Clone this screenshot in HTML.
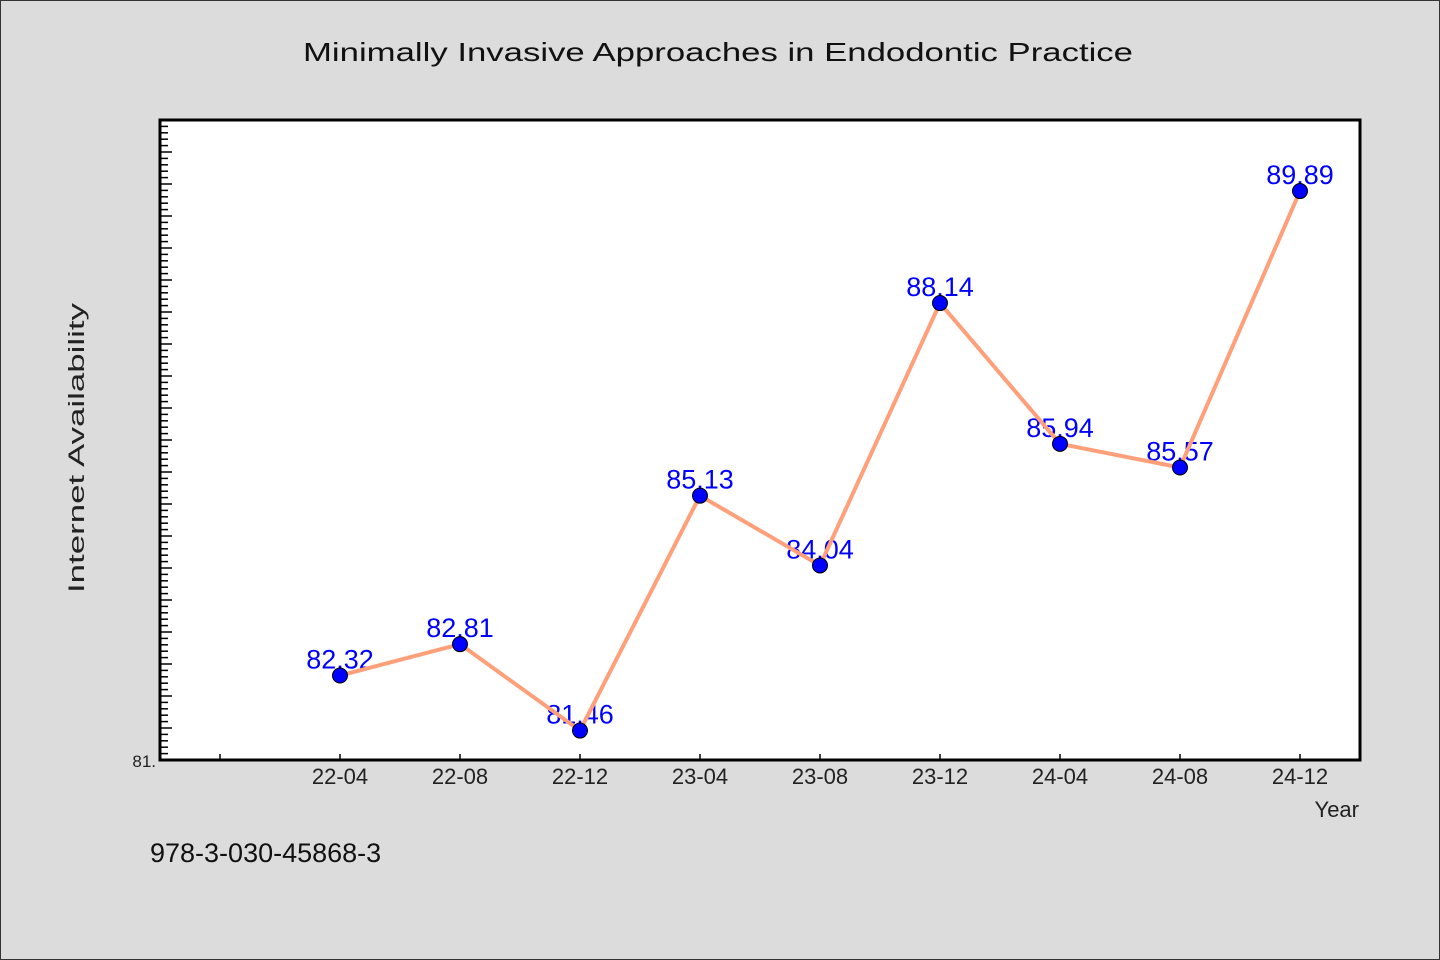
<!DOCTYPE html>
<html><head><meta charset="utf-8"><style>
html,body{margin:0;padding:0;background:#dcdcdc}
svg{display:block}
text{font-family:"WenQuanYi Zen Hei","Liberation Sans",sans-serif}
</style></head><body>
<svg id="chart" width="1440" height="960" xmlns="http://www.w3.org/2000/svg">
<rect x="0.5" y="0.5" width="1439" height="959" fill="#dcdcdc" stroke="#333" stroke-width="1"/>
<text x="718" y="61" font-size="26" text-anchor="middle" fill="#111" textLength="830" lengthAdjust="spacingAndGlyphs">Minimally Invasive Approaches in Endodontic Practice</text>
<rect x="160" y="120" width="1200" height="640" fill="#fff"/>
<g id="yticks"></g><g id="xticks"></g><g id="labels"></g><g id="line"></g><g id="points"></g>
<rect x="160" y="120" width="1200" height="640" fill="none" stroke="#000" stroke-width="3"/>
<text x="156" y="767" font-size="17" text-anchor="end" fill="#222">81.</text>
<text transform="translate(84,448) rotate(-90)" font-size="22" text-anchor="middle" fill="#222" textLength="290" lengthAdjust="spacingAndGlyphs">Internet Availability</text>
<text x="1359" y="817" font-size="22" text-anchor="end" fill="#222">Year</text>
<text x="150" y="862" font-size="27" fill="#111">978-3-030-45868-3</text>
</svg>
<script>
const categories = ["", "22-04", "22-08", "22-12", "23-04", "23-08", "23-12", "24-04", "24-08", "24-12"];
const values = [null, 82.32, 82.81, 81.46, 85.13, 84.04, 88.14, 85.94, 85.57, 89.89];
const valueLabels = ["", "82.32", "82.81", "81.46", "85.13", "84.04", "88.14", "85.94", "85.57", "89.89"];
const yMin = 81, yMax = 91;
const NS = "http://www.w3.org/2000/svg";
const X0 = 160, X1 = 1360, Y0 = 760, Y1 = 120;
function xScale(i){ return X0 + (i + 0.5) * (X1 - X0) / categories.length; }
function yScale(v){ return Y0 - (v - yMin) * (Y0 - Y1) / (yMax - yMin); }
function mk(tag, attrs, parent){ const e = document.createElementNS(NS, tag); for (const k in attrs) e.setAttribute(k, attrs[k]); parent.appendChild(e); return e; }
const yt = document.getElementById('yticks');
for (let k = 1; k < 100; k++) {
  const v = yMin + k * 0.1;
  const y = yScale(v);
  const major = k % 5 === 0;
  const t = mk('line', {x1: X0, x2: X0 + (major ? 12 : 8), y1: y, y2: y, stroke: '#000', 'stroke-width': 1.5}, yt);
  
  
}
const xt = document.getElementById('xticks');
categories.forEach((c, i) => {
  const x = xScale(i);
  const t = mk('line', {x1: x, x2: x, y1: Y0, y2: Y0 - 6, stroke: '#000', 'stroke-width': 1.5}, xt);
  
  
  if (c) {
    const l = mk('text', {x: x, y: 784, 'font-size': 22, 'text-anchor': 'middle', fill: '#222'}, xt);
    l.textContent = c;
    
    
  }
});
const lg = document.getElementById('labels');
const pg = document.getElementById('points');
let d = '';
values.forEach((v, i) => {
  if (v === null) return;
  const x = xScale(i), y = yScale(v);
  d += (d ? 'L' : 'M') + x + ',' + y;
  const l = mk('text', {x: x, y: y - 7, 'font-size': 27, 'text-anchor': 'middle', fill: '#0000ff'}, lg);
  l.textContent = valueLabels[i];
  
  
  const p = mk('circle', {cx: x, cy: y, r: 7.5, fill: '#0000ff', stroke: '#000', 'stroke-width': 1}, pg);
  
  
});
const ln = mk('path', {d: d, fill: 'none', stroke: '#ffa07a', 'stroke-width': 4, 'stroke-linejoin': 'round'}, document.getElementById('line'));


</script>
</body></html>
